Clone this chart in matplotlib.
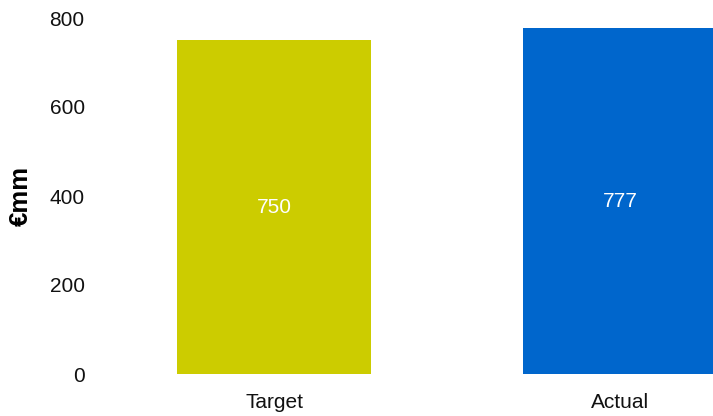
import matplotlib
matplotlib.use("Agg")
import matplotlib.pyplot as plt

# chart data
categories = ["Target", "Actual"]
values = [750, 777]
bar_colors = ["#CCCC00", "#0066CC"]
y_ticks = [0, 200, 400, 600, 800]

plt.rcParams["font.family"] = ["Liberation Sans", "DejaVu Sans"]

fig = plt.figure(figsize=(7.13, 4.16), dpi=100)
# axes placed in figure pixels: left 100, right 713, bottom 374, top 18
ax = fig.add_axes([100 / 713, 42 / 416, 613 / 713, 356 / 416])

x = list(range(len(categories)))
bars = ax.bar(x, values, width=0.56, color=bar_colors)

for b, v in zip(bars, values):
    ax.text(b.get_x() + b.get_width() / 2, v / 2, f"{v}",
            ha="center", va="center", color="white", fontsize=15)

ax.set_xlim(-0.503, 1.269)
ax.set_ylim(0, 800)
ax.set_yticks(y_ticks)
ax.set_xticks(x)
ax.set_xticklabels(categories)
ax.tick_params(axis="both", length=0, labelsize=15, colors="#111111")
ax.tick_params(axis="y", pad=11)
ax.tick_params(axis="x", pad=14)
for s in ax.spines.values():
    s.set_visible(False)

ax.set_ylabel("€mm", fontsize=18.5, fontweight="bold")
# anchor is the right edge of the rotated label, about 33 px from figure left
ax.yaxis.set_label_coords(-67 / 613, 0.5)

fig.savefig("out.png", dpi=100)
